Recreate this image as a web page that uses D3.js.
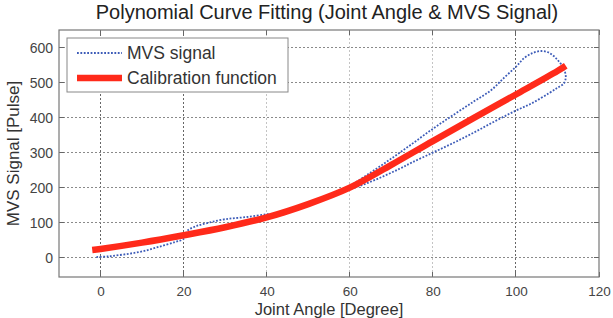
<!DOCTYPE html>
<html>
<head>
<meta charset="utf-8">
<script src="https://cdn.jsdelivr.net/npm/d3@7"></script>
<style>
  html, body { margin: 0; padding: 0; background: #fff; }
  svg { display: block; font-family: "Liberation Sans", Arial, sans-serif; }
</style>
</head>
<body>
<svg id="chart" width="613" height="318"></svg>
<script>
// ---- data ----
const title = "Polynomial Curve Fitting (Joint Angle & MVS Signal)";
const xLabel = "Joint Angle [Degree]";
const yLabel = "MVS Signal [Pulse]";
const xTicks = [0, 20, 40, 60, 80, 100, 120];
const yTicks = [0, 100, 200, 300, 400, 500, 600];
const legendNames = ["MVS signal", "Calibration function"];

// MVS signal (hysteresis loop): joint angle, pulse
const mvsAngle = [-1, 2, 6, 10, 14, 18, 20, 21, 23, 26, 30, 35, 40, 43, 46, 50, 55, 60, 65, 70, 75, 80, 85, 90, 94, 97, 100, 102, 104, 106, 108, 110, 111.5, 112, 111.5, 110, 108, 104, 100, 95, 90, 85, 80, 75, 72, 68, 64, 60, 57];
const mvsPulse = [2, 4, 10, 18, 31, 45, 54, 78, 90, 100, 110, 116, 124, 128, 140, 155, 177, 205, 243, 283, 325, 368, 408, 447, 478, 512, 545, 570, 584, 590, 585, 565, 540, 515, 497, 485, 470, 442, 420, 390, 358, 328, 300, 272, 254, 232, 212, 195, 182];

// Calibration function (fitted polynomial), sampled points
const calAngle = [-2, 0, 10, 20, 30, 40, 50, 60, 70, 80, 90, 100, 110, 112];
const calPulse = [22, 25, 43, 64, 87, 115, 153, 200, 265, 333, 400, 466, 533, 548];

(function () {
// ---- layout ----
const svg = d3.select("#chart");
const pl = 59, pr = 599, pt = 30, pb = 277;
const x = d3.scaleLinear().domain([-10, 120]).range([pl, pr]);
const y = d3.scaleLinear().domain([-55, 650]).range([pb, pt]);

svg.append("rect").attr("width", 613).attr("height", 318).attr("fill", "#fff");

// grid
const darkV = new Set([0, 20, 100]);
svg.append("g").selectAll("line").data(xTicks.filter(d => d < 120)).join("line")
  .attr("x1", d => x(d)).attr("x2", d => x(d))
  .attr("y1", pt).attr("y2", pb)
  .attr("stroke", d => darkV.has(d) ? "#666" : "#c4c4c4")
  .attr("stroke-width", 1)
  .attr("stroke-dasharray", "2,2")
  .attr("shape-rendering", "crispEdges");
svg.append("g").selectAll("line").data(yTicks).join("line")
  .attr("x1", pl).attr("x2", pr)
  .attr("y1", d => y(d)).attr("y2", d => y(d))
  .attr("stroke", "#8a8a8a")
  .attr("stroke-width", 1)
  .attr("stroke-dasharray", "2,2")
  .attr("shape-rendering", "crispEdges");

// axes (labels via d3 axes)
const xAxis = d3.axisBottom(x).tickValues(xTicks).tickSize(0).tickPadding(9);
const gx = svg.append("g").attr("transform", `translate(0,${pb})`).call(xAxis);
gx.select(".domain").remove();
gx.selectAll("text").attr("fill", "#444").attr("font-size", 13.5)
  .attr("font-family", "Liberation Sans, Arial, sans-serif");

const yAxis = d3.axisLeft(y).tickValues(yTicks).tickSize(0).tickPadding(6);
const gy = svg.append("g").attr("transform", `translate(${pl},0)`).call(yAxis);
gy.select(".domain").remove();
gy.selectAll("text").attr("fill", "#444").attr("font-size", 14)
  .attr("font-family", "Liberation Sans, Arial, sans-serif");

// inward tick marks
const tk = svg.append("g").attr("stroke", "#666").attr("stroke-width", 1).attr("shape-rendering", "crispEdges");
xTicks.forEach(d => {
  tk.append("line").attr("x1", x(d)).attr("x2", x(d)).attr("y1", pb).attr("y2", pb - 5);
  tk.append("line").attr("x1", x(d)).attr("x2", x(d)).attr("y1", pt).attr("y2", pt + 5);
});
yTicks.forEach(d => {
  tk.append("line").attr("x1", pl).attr("x2", pl + 5).attr("y1", y(d)).attr("y2", y(d));
  tk.append("line").attr("x1", pr).attr("x2", pr - 5).attr("y1", y(d)).attr("y2", y(d));
});

// frame
svg.append("rect").attr("x", pl).attr("y", pt)
  .attr("width", pr - pl).attr("height", pb - pt)
  .attr("fill", "none").attr("stroke", "#777").attr("stroke-width", 1.2);

// series
const mvs = mvsAngle.map((a, i) => [a, mvsPulse[i]]);
const cal = calAngle.map((a, i) => [a, calPulse[i]]);

svg.append("path").datum(mvs)
  .attr("d", d3.line().x(d => x(d[0])).y(d => y(d[1])).curve(d3.curveCatmullRom))
  .attr("fill", "none").attr("stroke", "#3d5cb8").attr("stroke-width", 1.8)
  .attr("stroke-dasharray", "1.8,1.6");

svg.append("path").datum(cal)
  .attr("d", d3.line().x(d => x(d[0])).y(d => y(d[1])).curve(d3.curveCatmullRom))
  .attr("fill", "none").attr("stroke", "#ff2a1a").attr("stroke-width", 6.5)
  .attr("stroke-linecap", "butt");

// legend
const lg = svg.append("g");
lg.append("rect").attr("x", 67).attr("y", 38).attr("width", 221).attr("height", 54)
  .attr("fill", "#fff").attr("stroke", "#888").attr("stroke-width", 1);
lg.append("line").attr("x1", 77).attr("x2", 122).attr("y1", 53).attr("y2", 53)
  .attr("stroke", "#3d5cb8").attr("stroke-width", 1.8).attr("stroke-dasharray", "1.8,1.6");
lg.append("line").attr("x1", 77).attr("x2", 122).attr("y1", 78).attr("y2", 78)
  .attr("stroke", "#ff2a1a").attr("stroke-width", 6.5);
lg.selectAll("text").data(legendNames).join("text")
  .attr("x", 127).attr("y", (d, i) => 53 + i * 25)
  .attr("dy", "0.35em").attr("font-size", 17.5).attr("fill", "#333")
  .text(d => d);

// titles
svg.append("text").attr("x", 327).attr("y", 19).attr("text-anchor", "middle")
  .attr("font-size", 20).attr("fill", "#222").text(title);
svg.append("text").attr("x", (pl + pr) / 2).attr("y", 315).attr("text-anchor", "middle")
  .attr("font-size", 16.5).attr("fill", "#333").text(xLabel);
svg.append("text").attr("transform", `translate(19,${(pt + pb) / 2}) rotate(-90)`)
  .attr("text-anchor", "middle").attr("font-size", 17).attr("fill", "#333").text(yLabel);
})();
</script>
</body>
</html>
